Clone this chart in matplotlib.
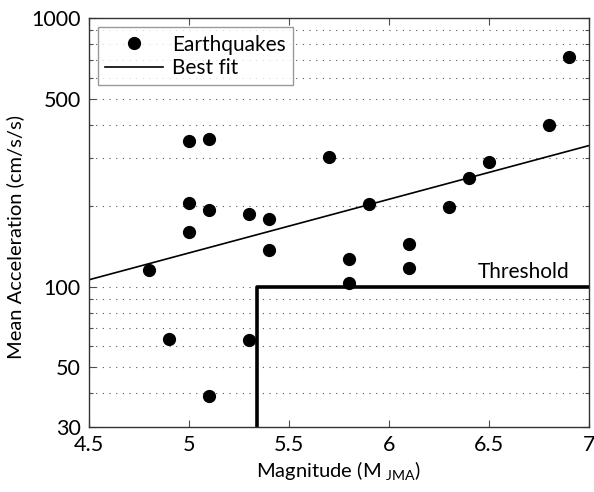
import matplotlib
matplotlib.use("Agg")
import matplotlib.pyplot as plt
from matplotlib.ticker import FixedLocator, NullFormatter

plt.rcParams['font.family'] = ['Lato', 'DejaVu Sans']
plt.rcParams['mathtext.fontset'] = 'custom'
plt.rcParams['mathtext.rm'] = 'Lato'

# Data
magnitude = [5.0, 5.1, 5.0, 5.1, 5.3, 5.4, 5.0, 5.4,
             6.9, 6.8, 5.7, 6.5, 6.4, 5.9, 6.3, 6.1,
             4.8, 4.9, 5.3, 5.1, 5.8, 5.8, 6.1]
acceleration = [349, 353, 204, 192, 187, 178, 159, 137,
                713, 399, 305, 292, 253, 203, 197, 144,
                115, 64, 63, 39, 127, 103, 117]
fit_x = [4.5, 7.0]
fit_y = [106, 335]
threshold_x = [5.34, 5.34, 7.0]
threshold_y = [30, 100, 100]
yticks_major = [30, 50, 100, 500, 1000]
yticks_minor = [40, 60, 70, 80, 90, 200, 300, 400, 600, 700, 800, 900]
xticks = [4.5, 5, 5.5, 6, 6.5, 7]

fig = plt.figure(figsize=(5.94, 4.92), dpi=100)
ax = fig.add_axes([89/594, 1-427/492, 500/594, 409/492])

for v in yticks_major[1:-1] + yticks_minor:
    ax.axhline(v, color='0.35', lw=0.8, ls=(0, (1, 5)), zorder=0)

ax.plot(magnitude, acceleration, 'o', color='black', markersize=8.5, label='Earthquakes', zorder=3)
ax.plot(fit_x, fit_y, '-', color='black', lw=1.2, label='Best fit', zorder=2)
ax.plot(threshold_x, threshold_y, '-', color='black', lw=2.6, zorder=2, solid_capstyle='butt')
ax.text(6.905, 104, 'Threshold', ha='right', va='bottom', fontsize=15)

ax.set_yscale('log')
ax.set_xlim(4.5, 7)
ax.set_ylim(30, 1000)
ax.yaxis.set_major_locator(FixedLocator(yticks_major))
ax.yaxis.set_minor_locator(FixedLocator(yticks_minor))
ax.set_yticklabels([str(v) for v in yticks_major])
ax.yaxis.set_minor_formatter(NullFormatter())
ax.set_xticks(xticks)
ax.set_xticklabels(['4.5', '5', '5.5', '6', '6.5', '7'])

ax.tick_params(which='both', direction='in', top=True, right=True, labelsize=15.5, width=0.8, color='0.3')
ax.tick_params(which='major', length=5)
ax.tick_params(which='minor', length=3)
ax.tick_params(axis='x', pad=6)
ax.tick_params(axis='y', pad=6)
for s in ax.spines.values():
    s.set_linewidth(1.0)
    s.set_color('0.2')

ax.set_xlabel(r'Magnitude (M$_{\mathrm{\ JMA}}$)', fontsize=14.5, labelpad=3)
ax.set_ylabel('Mean Acceleration (cm/s/s)', fontsize=14.5)
ax.yaxis.set_label_coords(-0.13, 0.465)

leg = ax.legend(loc='upper left', bbox_to_anchor=(0.018, 0.977), fontsize=15, frameon=True,
                fancybox=False, edgecolor='0.5', handlelength=2.75, borderpad=0.35,
                labelspacing=0.15, handletextpad=0.45, borderaxespad=0)
leg.get_frame().set_linewidth(1.0)

fig.savefig('out.png', dpi=100)
